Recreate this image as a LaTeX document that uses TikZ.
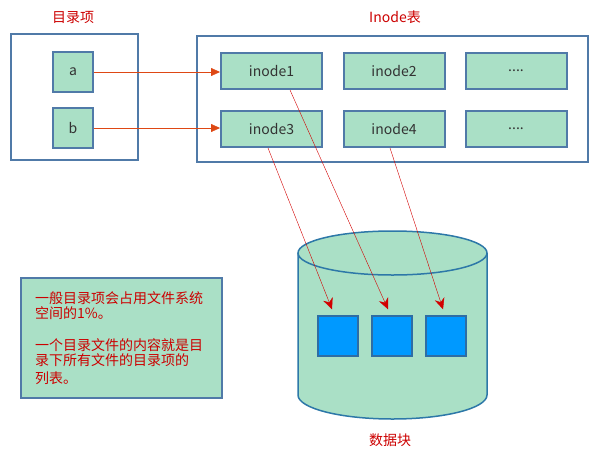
\documentclass[tikz,border=0pt]{standalone}
\usepackage{fontspec}
\setmainfont{Noto Sans CJK SC}
\usetikzlibrary{arrows.meta}
\definecolor{boxfill}{RGB}{170,224,198}
\definecolor{boxline}{RGB}{80,122,168}
\definecolor{labelred}{RGB}{204,0,0}
\definecolor{linkred}{RGB}{222,72,20}
\definecolor{ptrred}{RGB}{210,0,0}
\definecolor{blkfill}{RGB}{0,153,255}
\definecolor{blkline}{RGB}{46,109,164}
\definecolor{cylline}{RGB}{45,120,168}
\begin{document}
\begin{tikzpicture}[x=1pt,y=-1pt,
    every node/.style={font=\fontsize{14}{15.5}\selectfont},
    frame/.style={draw=boxline,line width=2.2pt},
    cell/.style={draw=boxline,fill=boxfill,line width=2pt,text=black!80,inner sep=0pt},
    title/.style={text=labelred},
    link/.style={draw=linkred,-{Triangle[length=9pt,width=8pt]}},
    ptr/.style={draw=ptrred,-{Stealth[length=11pt,width=10pt]}},
    blk/.style={draw=blkline,fill=blkfill,line width=1.5pt,minimum size=40pt,inner sep=0pt}]
            \useasboundingbox (0,0) rectangle (599,456);

            \node[title] (dirlabel) at (73,17) {目录项};
            \node[title] (tablabel) at (395,17) {Inode表};
            \draw[frame] (11,34) rectangle (138,160);
            \draw[frame] (197,36) rectangle (588,162);

            \node[cell,minimum width=40pt,minimum height=40pt] (a) at (73,72) {a};
            \node[cell,minimum width=40pt,minimum height=40pt] (b) at (73,128) {b};

            \node[cell,minimum width=101pt,minimum height=36pt] (inode1) at (271.5,71) {inode1};
            \node[cell,minimum width=101pt,minimum height=36pt] (inode2) at (394,71) {inode2};
            \node[cell,minimum width=101pt,minimum height=36pt] (more1) at (516,71) {....};
            \node[cell,minimum width=101pt,minimum height=36pt] (inode3) at (271.5,129) {inode3};
            \node[cell,minimum width=101pt,minimum height=36pt] (inode4) at (394,129) {inode4};
            \node[cell,minimum width=101pt,minimum height=36pt] (more2) at (516,129) {....};

            \draw[link] (a.east) -- (a.east -| inode1.west);
            \draw[link] (b.east) -- (b.east -| inode3.west);

            \fill[boxfill] (298,253) rectangle (487,395);
            \fill[boxfill] (392.5,395) ellipse [x radius=94.5,y radius=24];
            \draw[cylline,line width=1.5pt] (298,253) -- (298,395) arc[start angle=180,end angle=0,x radius=94.5,y radius=24] -- (487,253);
            \draw[cylline,fill=boxfill,line width=1.5pt] (392.5,253) ellipse [x radius=94.5,y radius=22];
            \node[title] (disklabel) at (390,440) {数据块};

            \node[blk] (blk1) at (338,336) {};
            \node[blk] (blk2) at (392,336) {};
            \node[blk] (blk3) at (446,336) {};

            \draw[ptr] ([xshift=-3.5pt]inode3.south) -- ([xshift=-6pt,yshift=6pt]blk1.north);
            \draw[ptr] ([xshift=18.5pt]inode1.south) -- ([xshift=-4pt,yshift=6pt]blk2.north);
            \draw[ptr] ([xshift=-4pt]inode4.south) -- ([xshift=-3pt,yshift=6pt]blk3.north);

            \node[draw=boxline,fill=boxfill,line width=2pt,minimum width=201pt,minimum height=120pt] (note) at (121.5,338) {};
            \node[text=labelred,anchor=north west,align=left,inner sep=0pt] (para1) at (35,291) {一般目录项会占用文件系统\\空间的1\%。};
            \node[text=labelred,anchor=north west,align=left,inner sep=0pt] (para2) at (35,338) {一个目录文件的内容就是目\\录下所有文件的目录项的\\[2.5pt]列表。};
\end{tikzpicture}
\end{document}
